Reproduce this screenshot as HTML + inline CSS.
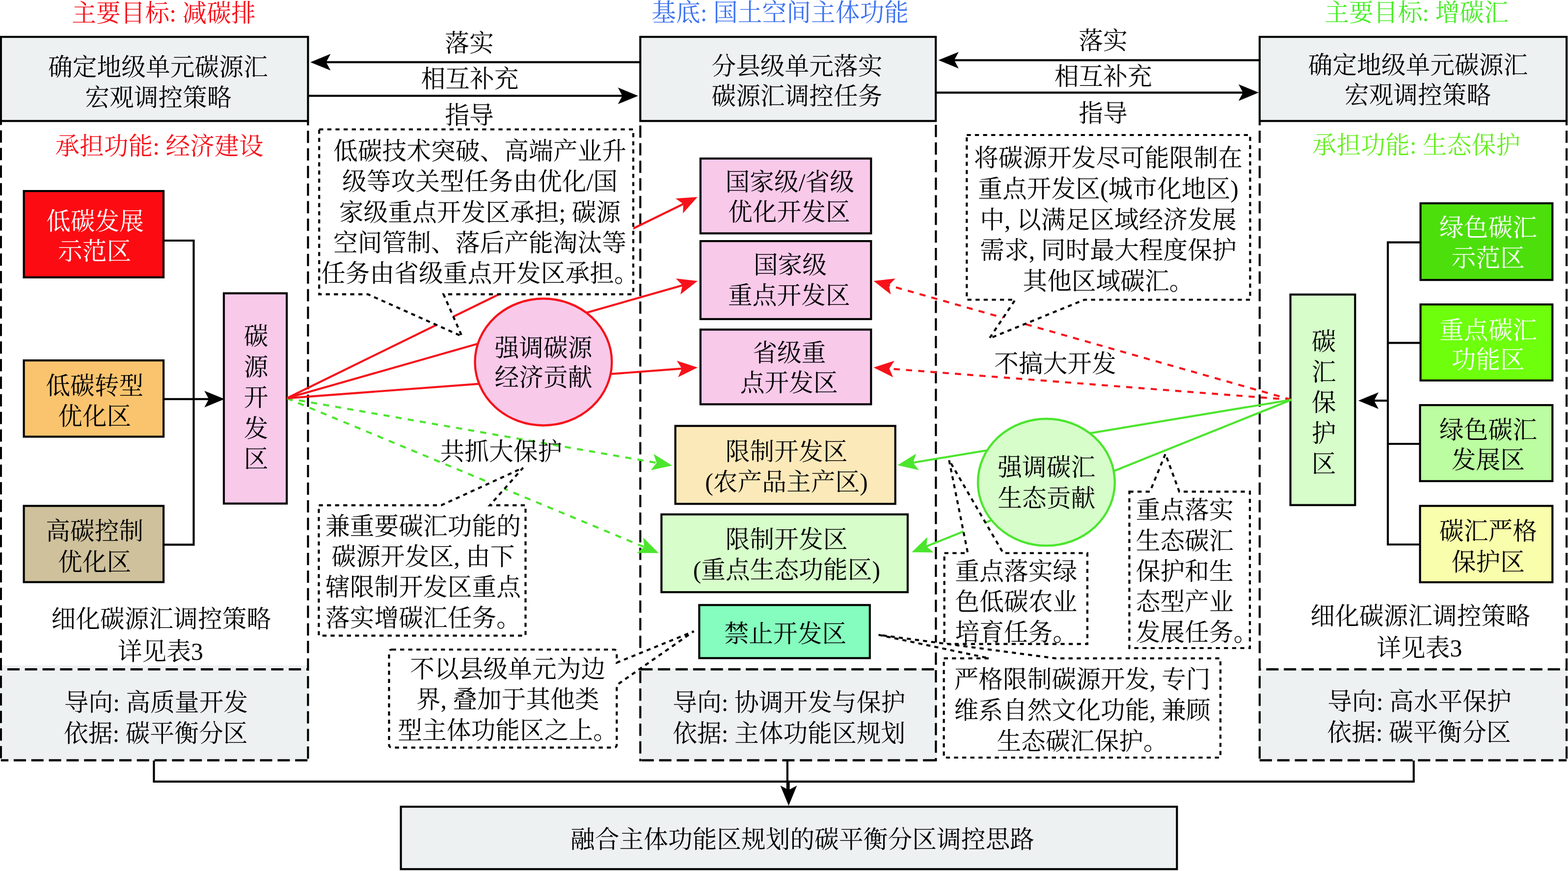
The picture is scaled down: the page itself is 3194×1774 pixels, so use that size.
<!DOCTYPE html>
<html lang="zh"><head><meta charset="utf-8"><title>融合主体功能区规划的碳平衡分区调控思路</title>
<style>
html,body{margin:0;padding:0;background:#fff}
#fig{position:relative;width:3194px;height:1774px;overflow:hidden;background:#fff;font-family:"Liberation Serif","Noto Serif CJK SC",serif}
#fig svg{position:absolute;left:0;top:0;display:block}
#tl span{position:absolute;white-space:pre;font-size:49.75px;line-height:49.75px;height:49.75px;color:transparent;overflow:hidden;text-align:justify;text-align-last:justify}
</style></head><body>
<div id="fig">
<svg width="3194" height="1774" viewBox="0 0 3194 1774">
<g id="shapes">
<rect x="-0.2" y="1355.2" width="629.7" height="194.6" fill="#eef1f2"/>
<rect x="1302.2" y="1361.2" width="606.3" height="188.6" fill="#eef1f2"/>
<rect x="2563.8" y="1362.5" width="629.4" height="187.3" fill="#eef1f2"/>
<path d="M1.9 248V254.6" stroke="#000" stroke-width="4.17" fill="none"/>
<path d="M1.9 265.4V1550.6" stroke="#000" stroke-width="4.17" fill="none" stroke-dasharray="25 10.83"/>
<path d="M627.4 248V255.4" stroke="#000" stroke-width="4.17" fill="none"/>
<path d="M627.4 266.2V1550.6" stroke="#000" stroke-width="4.17" fill="none" stroke-dasharray="25 10.83"/>
<path d="M1.9 1363.2H627.4" stroke="#000" stroke-width="4.6" fill="none" stroke-dasharray="25 10.83" stroke-dashoffset="-13"/>
<path d="M1.9 1548.5H627.4" stroke="#000" stroke-width="4.6" fill="none" stroke-dasharray="25 10.83" stroke-dashoffset="9.8"/>
<path d="M1304.3 255.6V1550.6" stroke="#000" stroke-width="4.17" fill="none" stroke-dasharray="25 10.83"/>
<path d="M1906.4 254.2V1550.6" stroke="#000" stroke-width="4.17" fill="none" stroke-dasharray="25 10.83"/>
<path d="M1304.3 1363.2H1906.4" stroke="#000" stroke-width="4.6" fill="none" stroke-dasharray="25 10.83" stroke-dashoffset="0"/>
<path d="M1304.3 1548.5H1906.4" stroke="#000" stroke-width="4.6" fill="none" stroke-dasharray="25 10.83" stroke-dashoffset="-2.5"/>
<path d="M2565.9 248V255.3" stroke="#000" stroke-width="4.17" fill="none"/>
<path d="M2565.9 266.1V1550.6" stroke="#000" stroke-width="4.17" fill="none" stroke-dasharray="25 10.83"/>
<path d="M3191.1 248V255.3" stroke="#000" stroke-width="4.17" fill="none"/>
<path d="M3191.1 266.1V1550.6" stroke="#000" stroke-width="4.17" fill="none" stroke-dasharray="25 10.83"/>
<path d="M2565.9 1363.2H3191.1" stroke="#000" stroke-width="4.6" fill="none" stroke-dasharray="25 10.83" stroke-dashoffset="-13.5"/>
<path d="M2565.9 1548.5H3191.1" stroke="#000" stroke-width="4.6" fill="none" stroke-dasharray="25 10.83" stroke-dashoffset="0"/>
<rect x="1.89" y="75.08" width="625.53" height="171.33" fill="#eef1f2" stroke="#000" stroke-width="4.17"/>
<rect x="1304.29" y="75.08" width="601.83" height="171.33" fill="#eef1f2" stroke="#000" stroke-width="4.17"/>
<rect x="2565.89" y="75.08" width="625.23" height="171.33" fill="#eef1f2" stroke="#000" stroke-width="4.17"/>
<path d="M632.2 126.7L673.4 109.8L664.3 126.7L673.4 143.6Z" fill="#000"/>
<path d="M1303 126.7L662.8 126.7" stroke="#000" stroke-width="4.17" fill="none"/>
<path d="M1299.9 195.2L1258.7 212.1L1267.8 195.2L1258.7 178.3Z" fill="#000"/>
<path d="M628 195.2L1269.3 195.2" stroke="#000" stroke-width="4.17" fill="none"/>
<path d="M1911.6 122.6L1952.8 105.7L1943.7 122.6L1952.8 139.5Z" fill="#000"/>
<path d="M2565 122.6L1942.2 122.6" stroke="#000" stroke-width="4.17" fill="none"/>
<path d="M2564.1 188.6L2522.9 205.5L2532 188.6L2522.9 171.7Z" fill="#000"/>
<path d="M1907 188.6L2533.5 188.6" stroke="#000" stroke-width="4.17" fill="none"/>
<path d="M335 490H394.5V1109.4H335" stroke="#000" stroke-width="4.17" fill="none"/>
<path d="M457.5 812.8L416.3 829.7L425.4 812.8L416.3 795.9Z" fill="#000"/>
<path d="M335 812.8L426.9 812.8" stroke="#000" stroke-width="4.17" fill="none"/>
<path d="M2892 493.7H2827V1109H2892M2827 698.4H2892M2827 904H2892" stroke="#000" stroke-width="4.17" fill="none"/>
<path d="M2766.9 816L2808.1 799.1L2799 816L2808.1 832.9Z" fill="#000"/>
<path d="M2827 816L2797.5 816" stroke="#000" stroke-width="4.17" fill="none"/>
<path d="M313.5 1549V1591.8H2879.7V1549" stroke="#000" stroke-width="4.17" fill="none"/>
<path d="M1603.9 1549V1611" stroke="#000" stroke-width="4.17" fill="none"/>
<path d="M1606.5 1641.1L1589.6 1599.9L1606.5 1609L1623.4 1599.9Z" fill="#000"/>
<path d="M1606.5 1591.8L1606.5 1610.5" stroke="#000" stroke-width="4.17" fill="none"/>
<rect x="48.59" y="389.08" width="284.53" height="175.83" fill="#fd0b12" stroke="#000" stroke-width="4.17"/>
<rect x="48.59" y="734.09" width="284.53" height="155.33" fill="#fac46e" stroke="#000" stroke-width="4.17"/>
<rect x="48.59" y="1030.38" width="284.53" height="155.23" fill="#cec19b" stroke="#000" stroke-width="4.17"/>
<rect x="455.98" y="597.38" width="128.13" height="428.23" fill="#f9c9ea" stroke="#000" stroke-width="4.17"/>
<rect x="1426.88" y="322.88" width="347.43" height="152.43" fill="#f9c9ea" stroke="#000" stroke-width="4.17"/>
<rect x="1426.88" y="491.08" width="347.43" height="158.83" fill="#f9c9ea" stroke="#000" stroke-width="4.17"/>
<rect x="1426.88" y="671.29" width="347.43" height="152.13" fill="#f9c9ea" stroke="#000" stroke-width="4.17"/>
<rect x="1375.68" y="867.49" width="448.03" height="158.73" fill="#fce9b9" stroke="#000" stroke-width="4.17"/>
<rect x="1347.38" y="1047.68" width="501.53" height="158.43" fill="#d6fdca" stroke="#000" stroke-width="4.17"/>
<rect x="1424.38" y="1232.29" width="347.43" height="108.13" fill="#84fdbe" stroke="#000" stroke-width="4.17"/>
<rect x="2628.59" y="599.88" width="131.73" height="428.83" fill="#d6fdca" stroke="#000" stroke-width="4.17"/>
<rect x="2893.59" y="414.08" width="268.73" height="156.13" fill="#4ddf0c" stroke="#000" stroke-width="4.17"/>
<rect x="2893.59" y="620.09" width="268.73" height="154.83" fill="#6dff0b" stroke="#000" stroke-width="4.17"/>
<rect x="2892.59" y="825.09" width="269.73" height="154.83" fill="#bbfda0" stroke="#000" stroke-width="4.17"/>
<rect x="2892.59" y="1030.38" width="269.73" height="155.53" fill="#f8feab" stroke="#000" stroke-width="4.17"/>
<rect x="816.59" y="1643.09" width="1580.83" height="127.13" fill="#eef1f2" stroke="#000" stroke-width="4.17"/>
<path d="M1369.1 948.2L1325.61 957.76L1337.48 942.68L1331.42 924.46Z" fill="#4ce52e"/>
<path d="M584.2 811.1L1338.96 942.93" stroke="#4ce52e" stroke-width="4.17" fill="none" stroke-dasharray="12.5 12.5"/>
<path d="M1341.8 1126.4L1297.27 1126.17L1312.16 1114.07L1310.26 1094.97Z" fill="#4ce52e"/>
<path d="M584.2 811.1L1313.55 1114.64" stroke="#4ce52e" stroke-width="4.17" fill="none" stroke-dasharray="12.5 12.5"/>
<path d="M1420.7 401.3L1391.14 434.6L1391.87 415.42L1376.27 404.25Z" fill="#f6121a"/>
<path d="M584.2 811.1L1393.22 414.76" stroke="#f6121a" stroke-width="4.17" fill="none"/>
<path d="M1421 572.3L1386.02 599.86L1390.13 581.11L1376.74 567.35Z" fill="#f6121a"/>
<path d="M584.2 811.1L1391.57 580.7" stroke="#f6121a" stroke-width="4.17" fill="none"/>
<path d="M1421 748.4L1381.18 768.33L1388.99 750.8L1378.65 734.63Z" fill="#f6121a"/>
<path d="M584.2 811.1L1390.49 750.69" stroke="#f6121a" stroke-width="4.17" fill="none"/>
<path d="M1779.6 572.3L1823.85 567.31L1810.48 581.08L1814.61 599.82Z" fill="#f6121a"/>
<path d="M2630.6 814.2L1809.03 580.67" stroke="#f6121a" stroke-width="4.17" fill="none" stroke-dasharray="12.5 12.5"/>
<path d="M1779.6 748.4L1821.98 734.73L1811.6 750.87L1819.37 768.43Z" fill="#f6121a"/>
<path d="M2630.6 814.2L1810.11 750.76" stroke="#f6121a" stroke-width="4.17" fill="none" stroke-dasharray="12.5 12.5"/>
<path d="M1828.3 947.5L1866.17 924.08L1859.97 942.24L1871.71 957.42Z" fill="#4ce52e"/>
<path d="M2630.6 814.2L1858.49 942.48" stroke="#4ce52e" stroke-width="4.17" fill="none"/>
<path d="M1857.2 1124.8L1889.13 1093.76L1886.99 1112.84L1901.73 1125.13Z" fill="#4ce52e"/>
<path d="M2630.6 814.2L1885.6 1113.4" stroke="#4ce52e" stroke-width="4.17" fill="none"/>
<path d="M650.2 263.5H1290V599.4H903.5L941 685L749.4 599.4H650.2Z" fill="#fff" stroke="#000" stroke-width="4.17" stroke-dasharray="8.3 8.3"/>
<path d="M1969.3 275H2546.5V610.5H2208.8L2015.3 689.4L2068 610.5H1969.3Z" fill="#fff" stroke="#000" stroke-width="4.17" stroke-dasharray="8.3 8.3"/>
<path d="M649.4 1029.2H898.7L1065.4 952.8L997.8 1029.2H1070.5V1294.6H649.4Z" fill="#fff" stroke="#000" stroke-width="4.17" stroke-dasharray="8.3 8.3"/>
<path d="M1923.6 1126.5H1971.4L1933.2 937L2043.5 1126.5H2214.9V1311.7H1923.6Z" fill="#fff" stroke="#000" stroke-width="4.17" stroke-dasharray="8.3 8.3"/>
<path d="M2300.5 1001.3H2342.5L2373.9 924.5L2402.2 1001.3H2546V1320H2300.5Z" fill="#fff" stroke="#000" stroke-width="4.17" stroke-dasharray="8.3 8.3"/>
<path d="M798.5 1323H1250.3Q1256.3 1323 1256.3 1329V1349.7L1413.2 1285.8L1256.3 1395.3V1516.6Q1256.3 1522.6 1250.3 1522.6H798.5Q792.5 1522.6 792.5 1516.6V1329Q792.5 1323 798.5 1323Z" fill="#fff" stroke="#000" stroke-width="4.17" stroke-dasharray="8.3 8.3"/>
<path d="M1922.6 1340.9H2015.4L1789.6 1293L2150.6 1340.9H2486V1543H1922.6Z" fill="#fff" stroke="#000" stroke-width="4.17" stroke-dasharray="8.3 8.3"/>
<ellipse cx="1106.9" cy="737.4" rx="139.4" ry="129.1" fill="#f9c9ea" stroke="#f6121a" stroke-width="4.4"/>
<ellipse cx="2131.4" cy="982.2" rx="139.4" ry="129.2" fill="#d6fdca" stroke="#4ce52e" stroke-width="4.4"/>
</g>
<g id="labels" font-family="&quot;Liberation Serif&quot;,&quot;Noto Serif CJK SC&quot;,serif" font-size="49.75" fill="#000">
<text x="146.25" y="43.91" fill="#f8101a" textLength="374.51">主要目标: 减碳排</text>
<text x="1327.32" y="43.41" fill="#3e73ef" textLength="523.76">基底: 国土空间主体功能</text>
<text x="2698.35" y="43.41" fill="#49ee29" textLength="374.51">主要目标: 增碳汇</text>
<text x="97.93" y="153.91" textLength="447.75">确定地级单元碳源汇</text>
<text x="173.25" y="216.21" textLength="298.5">宏观调控策略</text>
<text x="1449.38" y="151.91" textLength="348.25">分县级单元落实</text>
<text x="1449.38" y="213.41" textLength="348.25">碳源汇调控任务</text>
<text x="2664.43" y="149.91" textLength="447.75">确定地级单元碳源汇</text>
<text x="2738.75" y="211.1" textLength="298.5">宏观调控策略</text>
<text x="906.25" y="104.7" textLength="99.5">落实</text>
<text x="857.5" y="178.41" textLength="199">相互补充</text>
<text x="906.25" y="251.6" textLength="99.5">指导</text>
<text x="2197.15" y="100.41" textLength="99.5">落实</text>
<text x="2147.8" y="173.41" textLength="199">相互补充</text>
<text x="2197.15" y="247.71" textLength="99.5">指导</text>
<text x="112.37" y="315.21" fill="#f8101a" textLength="424.26">承担功能: 经济建设</text>
<text x="2672.87" y="312.9" fill="#68ee24" textLength="424.26">承担功能: 生态保护</text>
<text x="93.9" y="467.61" fill="#fff" textLength="199">低碳发展</text>
<text x="117.97" y="529.3" fill="#fff" textLength="149.25">示范区</text>
<text x="93.2" y="802.7" textLength="199">低碳转型</text>
<text x="117.97" y="864.9" textLength="149.25">优化区</text>
<text x="93.2" y="1099.11" textLength="199">高碳控制</text>
<text x="117.97" y="1161.61" textLength="149.25">优化区</text>
<text x="496.83" y="702.3">碳</text>
<text x="496.83" y="764.8">源</text>
<text x="496.83" y="827.3">开</text>
<text x="496.83" y="889.8">发</text>
<text x="496.83" y="952.3">区</text>
<text x="2671.82" y="712.5">碳</text>
<text x="2671.82" y="774.9">汇</text>
<text x="2671.82" y="837.3">保</text>
<text x="2671.82" y="899.7">护</text>
<text x="2671.82" y="962.11">区</text>
<text x="2932" y="480.5" fill="#fff" textLength="199">绿色碳汇</text>
<text x="2956.68" y="543.4" fill="#fff" textLength="149.25">示范区</text>
<text x="2932" y="689.7" fill="#fff" textLength="199">重点碳汇</text>
<text x="2956.68" y="750.2" fill="#fff" textLength="149.25">功能区</text>
<text x="2932" y="893.11" textLength="199">绿色碳汇</text>
<text x="2956.68" y="954.4" textLength="149.25">发展区</text>
<text x="2932" y="1098.9" textLength="199">碳汇严格</text>
<text x="2956.68" y="1161.61" textLength="149.25">保护区</text>
<text x="1477.51" y="387.61" textLength="262.57">国家级/省级</text>
<text x="1482.92" y="448.9" textLength="248.75">优化开发区</text>
<text x="1534.88" y="557.3" textLength="149.25">国家级</text>
<text x="1482.92" y="618.9" textLength="248.75">重点开发区</text>
<text x="1533.38" y="735.9" textLength="149.25">省级重</text>
<text x="1507.7" y="796.9" textLength="199">点开发区</text>
<text x="1477.83" y="936.7" textLength="248.75">限制开发区</text>
<text x="1436.18" y="999.4" textLength="331.63">(农产品主产区)</text>
<text x="1477.83" y="1116.11" textLength="248.75">限制开发区</text>
<text x="1411.81" y="1178.2" textLength="381.38">(重点生态功能区)</text>
<text x="1475.42" y="1308.11" textLength="248.75">禁止开发区</text>
<text x="1007.4" y="725.9" textLength="199">强调碳源</text>
<text x="1007.4" y="786.2" textLength="199">经济贡献</text>
<text x="2032.2" y="968.61" textLength="199">强调碳汇</text>
<text x="2032.2" y="1031.51" textLength="199">生态贡献</text>
<text x="896.52" y="936.7" textLength="248.75">共抓大保护</text>
<text x="2025.12" y="758.11" textLength="248.75">不搞大开发</text>
<text x="679" y="324.71" textLength="597">低碳技术突破、高端产业升</text>
<text x="696.96" y="387.11" textLength="561.07">级等攻关型任务由优化/国</text>
<text x="690.75" y="449.5" textLength="573.51">家级重点开发区承担; 碳源</text>
<text x="679" y="511.9" textLength="597">空间管制、落后产能淘汰等</text>
<text x="654.12" y="574.3" textLength="646.75">任务由省级重点开发区承担。</text>
<text x="1983.88" y="339.4" textLength="547.25">将碳源开发尽可能限制在</text>
<text x="1992.18" y="402" textLength="530.63">重点开发区(城市化地区)</text>
<text x="1996.31" y="464.61" textLength="522.38">中, 以满足区域经济发展</text>
<text x="1996.31" y="527.21" textLength="522.38">需求, 同时最大程度保护</text>
<text x="2083.38" y="589.8" textLength="348.25">其他区域碳汇。</text>
<text x="663" y="1088.9" textLength="398">兼重要碳汇功能的</text>
<text x="675.44" y="1151.11" textLength="373.12">碳源开发区, 由下</text>
<text x="663" y="1213.31" textLength="398">辖限制开发区重点</text>
<text x="663" y="1275.5" textLength="398">落实增碳汇任务。</text>
<text x="1945.62" y="1181.2" textLength="248.75">重点落实绿</text>
<text x="1945.62" y="1242.9" textLength="248.75">色低碳农业</text>
<text x="1945.62" y="1304.61" textLength="248.75">培育任务。</text>
<text x="2313.8" y="1056.4" textLength="199">重点落实</text>
<text x="2313.8" y="1118.61" textLength="199">生态碳汇</text>
<text x="2313.8" y="1180.81" textLength="199">保护和生</text>
<text x="2313.8" y="1243" textLength="199">态型产业</text>
<text x="2313.8" y="1305.2" textLength="248.75">发展任务。</text>
<text x="835.2" y="1380.11" textLength="398">不以县级单元为边</text>
<text x="847.64" y="1442.4" textLength="373.12">界, 叠加于其他类</text>
<text x="810.33" y="1504.7" textLength="447.75">型主体功能区之上。</text>
<text x="1943.41" y="1400.81" textLength="522.38">严格限制碳源开发, 专门</text>
<text x="1943.41" y="1463.81" textLength="522.38">维系自然文化功能, 兼顾</text>
<text x="2030.47" y="1526.81" textLength="348.25">生态碳汇保护。</text>
<text x="130.75" y="1448.31" textLength="374.51">导向: 高质量开发</text>
<text x="129.95" y="1510.9" textLength="374.51">依据: 碳平衡分区</text>
<text x="1370.2" y="1448.31" textLength="474.01">导向: 协调开发与保护</text>
<text x="1370.2" y="1510.9" textLength="474.01">依据: 主体功能区规划</text>
<text x="2704.35" y="1446.4" textLength="374.51">导向: 高水平保护</text>
<text x="2703.35" y="1508.5" textLength="374.51">依据: 碳平衡分区</text>
<text x="104.43" y="1278.2" textLength="447.75">细化碳源汇调控策略</text>
<text x="239.64" y="1344.2" textLength="174.12">详见表3</text>
<text x="2669.32" y="1271.9" textLength="447.75">细化碳源汇调控策略</text>
<text x="2804.14" y="1337.4" textLength="174.12">详见表3</text>
<text x="1161.88" y="1727.2" textLength="945.25">融合主体功能区规划的碳平衡分区调控思路</text>
</g>
</svg>
<div id="tl"><span style="left:146.25px;top:0.12px;width:374.51px">主要目标: 减碳排</span><span style="left:1327.32px;top:-0.38px;width:523.76px">基底: 国土空间主体功能</span><span style="left:2698.35px;top:-0.38px;width:374.51px">主要目标: 增碳汇</span><span style="left:97.93px;top:110.12px;width:447.75px">确定地级单元碳源汇</span><span style="left:173.25px;top:172.43px;width:298.5px">宏观调控策略</span><span style="left:1449.38px;top:108.12px;width:348.25px">分县级单元落实</span><span style="left:1449.38px;top:169.62px;width:348.25px">碳源汇调控任务</span><span style="left:2664.43px;top:106.12px;width:447.75px">确定地级单元碳源汇</span><span style="left:2738.75px;top:167.32px;width:298.5px">宏观调控策略</span><span style="left:906.25px;top:60.92px;width:99.5px">落实</span><span style="left:857.5px;top:134.62px;width:199px">相互补充</span><span style="left:906.25px;top:207.82px;width:99.5px">指导</span><span style="left:2197.15px;top:56.62px;width:99.5px">落实</span><span style="left:2147.8px;top:129.62px;width:199px">相互补充</span><span style="left:2197.15px;top:203.93px;width:99.5px">指导</span><span style="left:112.37px;top:271.43px;width:424.26px">承担功能: 经济建设</span><span style="left:2672.87px;top:269.12px;width:424.26px">承担功能: 生态保护</span><span style="left:93.9px;top:423.83px;width:199px">低碳发展</span><span style="left:117.97px;top:485.52px;width:149.25px">示范区</span><span style="left:93.2px;top:758.92px;width:199px">低碳转型</span><span style="left:117.97px;top:821.12px;width:149.25px">优化区</span><span style="left:93.2px;top:1055.33px;width:199px">高碳控制</span><span style="left:117.97px;top:1117.83px;width:149.25px">优化区</span><span style="left:496.83px;top:658.52px;width:49.75px">碳</span><span style="left:496.83px;top:721.02px;width:49.75px">源</span><span style="left:496.83px;top:783.52px;width:49.75px">开</span><span style="left:496.83px;top:846.02px;width:49.75px">发</span><span style="left:496.83px;top:908.52px;width:49.75px">区</span><span style="left:2671.82px;top:668.73px;width:49.75px">碳</span><span style="left:2671.82px;top:731.12px;width:49.75px">汇</span><span style="left:2671.82px;top:793.52px;width:49.75px">保</span><span style="left:2671.82px;top:855.92px;width:49.75px">护</span><span style="left:2671.82px;top:918.33px;width:49.75px">区</span><span style="left:2932px;top:436.73px;width:199px">绿色碳汇</span><span style="left:2956.68px;top:499.62px;width:149.25px">示范区</span><span style="left:2932px;top:645.92px;width:199px">重点碳汇</span><span style="left:2956.68px;top:706.42px;width:149.25px">功能区</span><span style="left:2932px;top:849.33px;width:199px">绿色碳汇</span><span style="left:2956.68px;top:910.62px;width:149.25px">发展区</span><span style="left:2932px;top:1055.12px;width:199px">碳汇严格</span><span style="left:2956.68px;top:1117.83px;width:149.25px">保护区</span><span style="left:1477.51px;top:343.83px;width:262.57px">国家级/省级</span><span style="left:1482.92px;top:405.12px;width:248.75px">优化开发区</span><span style="left:1534.88px;top:513.52px;width:149.25px">国家级</span><span style="left:1482.92px;top:575.12px;width:248.75px">重点开发区</span><span style="left:1533.38px;top:692.12px;width:149.25px">省级重</span><span style="left:1507.7px;top:753.12px;width:199px">点开发区</span><span style="left:1477.83px;top:892.92px;width:248.75px">限制开发区</span><span style="left:1436.18px;top:955.62px;width:331.63px">(农产品主产区)</span><span style="left:1477.83px;top:1072.33px;width:248.75px">限制开发区</span><span style="left:1411.81px;top:1134.42px;width:381.38px">(重点生态功能区)</span><span style="left:1475.42px;top:1264.33px;width:248.75px">禁止开发区</span><span style="left:1007.4px;top:682.12px;width:199px">强调碳源</span><span style="left:1007.4px;top:742.42px;width:199px">经济贡献</span><span style="left:2032.2px;top:924.83px;width:199px">强调碳汇</span><span style="left:2032.2px;top:987.73px;width:199px">生态贡献</span><span style="left:896.52px;top:892.92px;width:248.75px">共抓大保护</span><span style="left:2025.12px;top:714.33px;width:248.75px">不搞大开发</span><span style="left:679px;top:280.93px;width:597px">低碳技术突破、高端产业升</span><span style="left:696.96px;top:343.33px;width:561.07px">级等攻关型任务由优化/国</span><span style="left:690.75px;top:405.73px;width:573.51px">家级重点开发区承担; 碳源</span><span style="left:679px;top:468.12px;width:597px">空间管制、落后产能淘汰等</span><span style="left:654.12px;top:530.52px;width:646.75px">任务由省级重点开发区承担。</span><span style="left:1983.88px;top:295.62px;width:547.25px">将碳源开发尽可能限制在</span><span style="left:1992.18px;top:358.23px;width:530.63px">重点开发区(城市化地区)</span><span style="left:1996.31px;top:420.83px;width:522.38px">中, 以满足区域经济发展</span><span style="left:1996.31px;top:483.43px;width:522.38px">需求, 同时最大程度保护</span><span style="left:2083.38px;top:546.02px;width:348.25px">其他区域碳汇。</span><span style="left:663px;top:1045.12px;width:398px">兼重要碳汇功能的</span><span style="left:675.44px;top:1107.33px;width:373.12px">碳源开发区, 由下</span><span style="left:663px;top:1169.53px;width:398px">辖限制开发区重点</span><span style="left:663px;top:1231.72px;width:398px">落实增碳汇任务。</span><span style="left:1945.62px;top:1137.42px;width:248.75px">重点落实绿</span><span style="left:1945.62px;top:1199.12px;width:248.75px">色低碳农业</span><span style="left:1945.62px;top:1260.83px;width:248.75px">培育任务。</span><span style="left:2313.8px;top:1012.62px;width:199px">重点落实</span><span style="left:2313.8px;top:1074.83px;width:199px">生态碳汇</span><span style="left:2313.8px;top:1137.03px;width:199px">保护和生</span><span style="left:2313.8px;top:1199.22px;width:199px">态型产业</span><span style="left:2313.8px;top:1261.42px;width:248.75px">发展任务。</span><span style="left:835.2px;top:1336.33px;width:398px">不以县级单元为边</span><span style="left:847.64px;top:1398.62px;width:373.12px">界, 叠加于其他类</span><span style="left:810.33px;top:1460.92px;width:447.75px">型主体功能区之上。</span><span style="left:1943.41px;top:1357.03px;width:522.38px">严格限制碳源开发, 专门</span><span style="left:1943.41px;top:1420.03px;width:522.38px">维系自然文化功能, 兼顾</span><span style="left:2030.47px;top:1483.03px;width:348.25px">生态碳汇保护。</span><span style="left:130.75px;top:1404.53px;width:374.51px">导向: 高质量开发</span><span style="left:129.95px;top:1467.12px;width:374.51px">依据: 碳平衡分区</span><span style="left:1370.2px;top:1404.53px;width:474.01px">导向: 协调开发与保护</span><span style="left:1370.2px;top:1467.12px;width:474.01px">依据: 主体功能区规划</span><span style="left:2704.35px;top:1402.62px;width:374.51px">导向: 高水平保护</span><span style="left:2703.35px;top:1464.72px;width:374.51px">依据: 碳平衡分区</span><span style="left:104.43px;top:1234.42px;width:447.75px">细化碳源汇调控策略</span><span style="left:239.64px;top:1300.42px;width:174.12px">详见表3</span><span style="left:2669.32px;top:1228.12px;width:447.75px">细化碳源汇调控策略</span><span style="left:2804.14px;top:1293.62px;width:174.12px">详见表3</span><span style="left:1161.88px;top:1683.42px;width:945.25px">融合主体功能区规划的碳平衡分区调控思路</span></div>
</div>
</body></html>
